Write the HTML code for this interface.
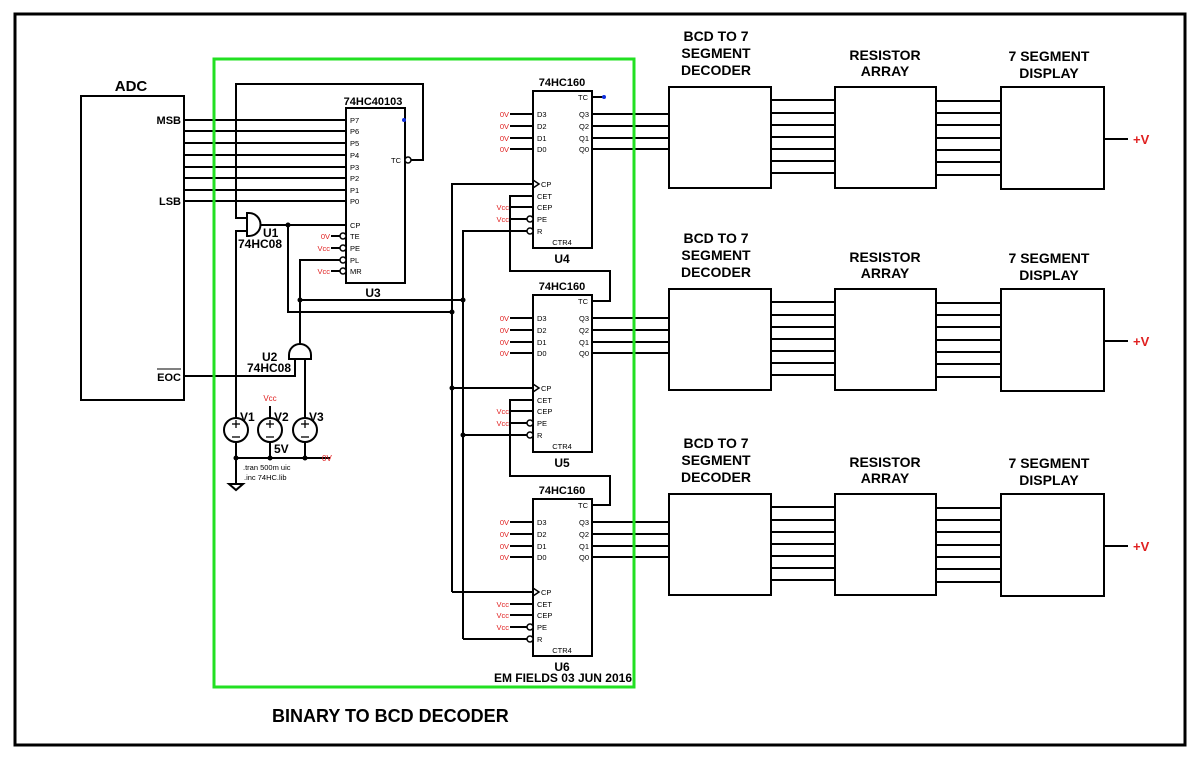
<!DOCTYPE html>
<html><head><meta charset="utf-8"><style>
html,body{margin:0;padding:0;background:#fff;}
svg{display:block;font-family:"Liberation Sans",Arial,sans-serif;}
.b{font-weight:bold;}
</style></head><body>
<svg width="1200" height="759" viewBox="0 0 1200 759" xmlns="http://www.w3.org/2000/svg">
<defs>
<g id="ctr">
  <rect x="533" y="91" width="59" height="157" fill="none" stroke="#000" stroke-width="2"/>
  <text x="562" y="86" font-size="11" class="b" text-anchor="middle">74HC160</text>
  <text x="588" y="100" font-size="7.5" text-anchor="end">TC</text>
  <g stroke="#000" stroke-width="2">
    <line x1="510" y1="114" x2="533" y2="114"/><line x1="510" y1="126" x2="533" y2="126"/>
    <line x1="510" y1="138" x2="533" y2="138"/><line x1="510" y1="149" x2="533" y2="149"/>
    <line x1="592" y1="114" x2="669" y2="114"/><line x1="592" y1="126" x2="669" y2="126"/>
    <line x1="592" y1="138" x2="669" y2="138"/><line x1="592" y1="149" x2="669" y2="149"/>
    <line x1="510" y1="207" x2="533" y2="207"/><line x1="510" y1="219" x2="527" y2="219"/>
  </g>
  <polyline points="533,180 539,184 533,188" fill="none" stroke="#000" stroke-width="1.5"/>
  <circle cx="530" cy="219" r="3" fill="#fff" stroke="#000" stroke-width="1.5"/>
  <circle cx="530" cy="231" r="3" fill="#fff" stroke="#000" stroke-width="1.5"/>
  <g font-size="7.5" fill="#e02020" text-anchor="end">
    <text x="509" y="117">0V</text><text x="509" y="129">0V</text><text x="509" y="141">0V</text><text x="509" y="152">0V</text>
    <text x="509" y="210">Vcc</text><text x="509" y="222">Vcc</text>
  </g>
  <g font-size="7.5">
    <text x="537" y="117">D3</text><text x="537" y="129">D2</text><text x="537" y="141">D1</text><text x="537" y="152">D0</text>
    <text x="541" y="187">CP</text><text x="537" y="199">CET</text><text x="537" y="210">CEP</text>
    <text x="537" y="222">PE</text><text x="537" y="234">R</text>
    <text x="562" y="245" text-anchor="middle">CTR4</text>
  </g>
  <g font-size="7.5" text-anchor="end">
    <text x="589" y="117">Q3</text><text x="589" y="129">Q2</text><text x="589" y="141">Q1</text><text x="589" y="152">Q0</text>
  </g>
</g>
<g id="row">
  <g stroke="#000" stroke-width="2" fill="none">
    <rect x="669" y="87" width="102" height="101"/>
    <rect x="835" y="87" width="101" height="101"/>
    <rect x="1001" y="87" width="103" height="102"/>
    <line x1="771" y1="100" x2="835" y2="100"/><line x1="771" y1="113" x2="835" y2="113"/>
    <line x1="771" y1="125" x2="835" y2="125"/><line x1="771" y1="137" x2="835" y2="137"/>
    <line x1="771" y1="149" x2="835" y2="149"/><line x1="771" y1="161" x2="835" y2="161"/>
    <line x1="771" y1="173" x2="835" y2="173"/>
    <line x1="936" y1="101" x2="1001" y2="101"/><line x1="936" y1="113" x2="1001" y2="113"/>
    <line x1="936" y1="125" x2="1001" y2="125"/><line x1="936" y1="138" x2="1001" y2="138"/>
    <line x1="936" y1="150" x2="1001" y2="150"/><line x1="936" y1="162" x2="1001" y2="162"/>
    <line x1="936" y1="175" x2="1001" y2="175"/>
    <line x1="1104" y1="139" x2="1128" y2="139"/>
  </g>
  <text x="1133" y="144" font-size="13" class="b" fill="#e02020">+V</text>
  <g font-size="14" class="b" text-anchor="middle">
    <text x="716" y="41">BCD TO 7</text><text x="716" y="58">SEGMENT</text><text x="716" y="75">DECODER</text>
    <text x="885" y="60">RESISTOR</text><text x="885" y="76">ARRAY</text>
    <text x="1049" y="61">7 SEGMENT</text><text x="1049" y="78">DISPLAY</text>
  </g>
</g>
</defs>

<rect x="15" y="14" width="1170" height="731" fill="none" stroke="#000" stroke-width="3"/>

<!-- ADC -->
<rect x="81" y="96" width="103" height="304" fill="none" stroke="#000" stroke-width="2"/>
<text x="131" y="91" font-size="15" class="b" text-anchor="middle">ADC</text>
<text x="181" y="124" font-size="11" class="b" text-anchor="end">MSB</text>
<text x="181" y="205" font-size="11" class="b" text-anchor="end">LSB</text>
<text x="181" y="381" font-size="11" class="b" text-anchor="end">EOC</text>
<line x1="157" y1="369" x2="181" y2="369" stroke="#000" stroke-width="1"/>

<g stroke="#000" stroke-width="2" fill="none">
  <line x1="184" y1="120" x2="346" y2="120"/><line x1="184" y1="131" x2="346" y2="131"/>
  <line x1="184" y1="143" x2="346" y2="143"/><line x1="184" y1="155" x2="346" y2="155"/>
  <line x1="184" y1="167" x2="346" y2="167"/><line x1="184" y1="178" x2="346" y2="178"/>
  <line x1="184" y1="190" x2="346" y2="190"/><line x1="184" y1="201" x2="346" y2="201"/>
  <!-- U3 -->
  <rect x="346" y="108" width="59" height="175"/>
  <polyline points="411,160 423,160 423,84 236,84 236,218 247,218"/>
  <path d="M247,213 H249 A11.5,11.5 0 0 1 249,236 H247 Z" fill="#fff"/>
  <polyline points="247,231 236,231 236,418"/>
  <line x1="260" y1="225" x2="346" y2="225"/>
  <polyline points="288,225 288,312 452,312"/>
  <polyline points="340,260 300,260 300,344"/>
  <line x1="300" y1="300" x2="463" y2="300"/>
  <line x1="331" y1="236" x2="340" y2="236"/><line x1="331" y1="248" x2="340" y2="248"/>
  <line x1="331" y1="271" x2="340" y2="271"/>
  <!-- U2 -->
  <path d="M289,359 V355 A11,11 0 0 1 311,355 V359 Z" fill="#fff"/>
  <polyline points="295,359 295,376 184,376"/>
  <line x1="305" y1="359" x2="305" y2="418"/>
  <line x1="270" y1="406" x2="270" y2="418"/>
  <circle cx="236" cy="430" r="12"/><circle cx="270" cy="430" r="12"/><circle cx="305" cy="430" r="12"/>
  <line x1="236" y1="442" x2="236" y2="484"/><line x1="270" y1="442" x2="270" y2="458"/><line x1="305" y1="442" x2="305" y2="458"/>
  <line x1="236" y1="458" x2="330" y2="458"/>
  <polygon points="229,484 243,484 236,490"/>
  <!-- counter bus -->
  <line x1="452" y1="183" x2="452" y2="592"/>
  <line x1="463" y1="230" x2="463" y2="639"/>
  <line x1="452" y1="184" x2="533" y2="184"/><line x1="452" y1="388" x2="533" y2="388"/><line x1="452" y1="592" x2="533" y2="592"/>
  <line x1="463" y1="231" x2="527" y2="231"/><line x1="463" y1="435" x2="527" y2="435"/><line x1="463" y1="639" x2="527" y2="639"/>
  <polyline points="533,196 510,196 510,271 610,271 610,301 592,301"/>
  <polyline points="533,400 510,400 510,476 610,476 610,505 592,505"/>
  <line x1="510" y1="604" x2="533" y2="604"/>
  <line x1="592" y1="97" x2="603" y2="97"/>
</g>
<g stroke="#000" stroke-width="1.3">
  <line x1="232" y1="424" x2="240" y2="424"/><line x1="236" y1="420" x2="236" y2="428"/><line x1="232" y1="437" x2="240" y2="437"/>
  <line x1="266" y1="424" x2="274" y2="424"/><line x1="270" y1="420" x2="270" y2="428"/><line x1="266" y1="437" x2="274" y2="437"/>
  <line x1="301" y1="424" x2="309" y2="424"/><line x1="305" y1="420" x2="305" y2="428"/><line x1="301" y1="437" x2="309" y2="437"/>
</g>
<g fill="#000">
  <circle cx="288" cy="225" r="2.5"/><circle cx="300" cy="300" r="2.5"/><circle cx="463" cy="300" r="2.5"/>
  <circle cx="452" cy="312" r="2.5"/><circle cx="452" cy="388" r="2.5"/><circle cx="463" cy="435" r="2.5"/>
  <circle cx="236" cy="458" r="2.5"/><circle cx="270" cy="458" r="2.5"/><circle cx="305" cy="458" r="2.5"/>
</g>
<circle cx="408" cy="160" r="3" fill="#fff" stroke="#000" stroke-width="1.5"/>
<circle cx="343" cy="236" r="3" fill="#fff" stroke="#000" stroke-width="1.5"/>
<circle cx="343" cy="248" r="3" fill="#fff" stroke="#000" stroke-width="1.5"/>
<circle cx="343" cy="260" r="3" fill="#fff" stroke="#000" stroke-width="1.5"/>
<circle cx="343" cy="271" r="3" fill="#fff" stroke="#000" stroke-width="1.5"/>
<circle cx="404" cy="120" r="2" fill="#1030e0"/>
<circle cx="604" cy="97" r="2" fill="#1030e0"/>

<text x="373" y="105" font-size="11" class="b" text-anchor="middle">74HC40103</text>
<g font-size="7.5">
  <text x="350" y="123">P7</text><text x="350" y="134">P6</text><text x="350" y="146">P5</text><text x="350" y="158">P4</text>
  <text x="350" y="170">P3</text><text x="350" y="181">P2</text><text x="350" y="193">P1</text><text x="350" y="204">P0</text>
  <text x="350" y="228">CP</text><text x="350" y="239">TE</text><text x="350" y="251">PE</text><text x="350" y="263">PL</text><text x="350" y="274">MR</text>
  <text x="401" y="163" text-anchor="end">TC</text>
</g>
<g font-size="7.5" fill="#e02020" text-anchor="end">
  <text x="330" y="239">0V</text><text x="330" y="251">Vcc</text><text x="330" y="274">Vcc</text>
</g>
<text x="373" y="297" font-size="12" class="b" text-anchor="middle">U3</text>
<text x="263" y="237" font-size="12" class="b">U1</text>
<text x="238" y="248" font-size="12" class="b">74HC08</text>
<text x="262" y="361" font-size="12" class="b">U2</text>
<text x="247" y="372" font-size="12" class="b">74HC08</text>
<text x="240" y="421" font-size="12" class="b">V1</text>
<text x="274" y="421" font-size="12" class="b">V2</text>
<text x="309" y="421" font-size="12" class="b">V3</text>
<text x="274" y="453" font-size="12" class="b">5V</text>
<text x="270" y="401" font-size="8" fill="#e02020" text-anchor="middle">Vcc</text>
<text x="322" y="461" font-size="8" fill="#e02020">0V</text>
<text x="243" y="470" font-size="7.5">.tran 500m uic</text>
<text x="244" y="480" font-size="7.5">.inc 74HC.lib</text>

<use href="#ctr"/>
<use href="#ctr" transform="translate(0,204)"/>
<use href="#ctr" transform="translate(0,408)"/>
<text x="509" y="607" font-size="7.5" fill="#e02020" text-anchor="end">Vcc</text>
<rect x="505" y="394" width="4" height="10" fill="#fff"/>
<rect x="505" y="190" width="4" height="10" fill="#fff"/>
<text x="562" y="263" font-size="12" class="b" text-anchor="middle">U4</text>
<text x="562" y="467" font-size="12" class="b" text-anchor="middle">U5</text>
<text x="562" y="671" font-size="12" class="b" text-anchor="middle">U6</text>
<text x="632" y="682" font-size="12" class="b" text-anchor="end">EM FIELDS  03 JUN 2016</text>

<rect x="214" y="59" width="420" height="628" fill="none" stroke="#22e022" stroke-width="3"/>

<use href="#row"/>
<use href="#row" transform="translate(0,202)"/>
<use href="#row" transform="translate(0,407)"/>

<text x="272" y="722" font-size="18" class="b">BINARY TO BCD DECODER</text>
</svg>
</body></html>
